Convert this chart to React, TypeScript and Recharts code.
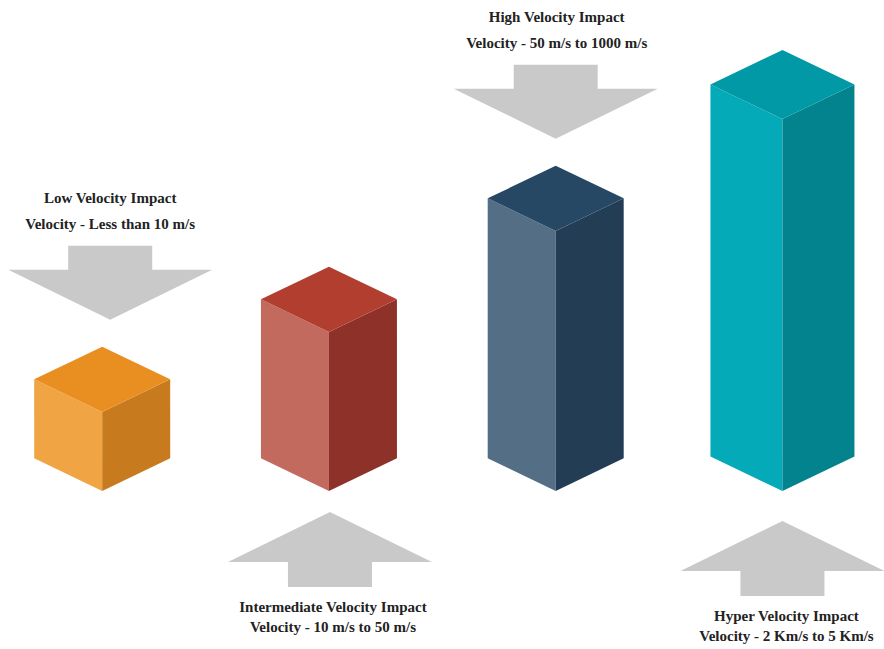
import React from "react";
import { BarChart, Bar, XAxis, YAxis } from "recharts";

// ---- data ----
const categories = [
  "Low Velocity Impact",
  "Intermediate Velocity Impact",
  "High Velocity Impact",
  "Hyper Velocity Impact",
];
const velocityRanges = [
  "Velocity - Less than 10 m/s",
  "Velocity - 10 m/s to 50 m/s",
  "Velocity - 50 m/s to 1000 m/s",
  "Velocity - 2 Km/s to 5 Km/s",
];
const barHeights = [79, 159, 260, 372];

// ---- styles ----
const FACE_COLORS = [
  { top: "#E98F22", left: "#F0A444", right: "#C77B1E" },
  { top: "#B23E30", left: "#C26A5E", right: "#8E3229" },
  { top: "#274864", left: "#546E85", right: "#233D55" },
  { top: "#0299A6", left: "#05AAB8", right: "#02838D" },
];
const HALF_WIDTHS = [68, 68, 68, 72];
const LABEL_SIDE = ["above", "below", "above", "below"];
const ARROW_DX = [8, 1, 0, 0];
const TEXT_DX = [8, 4, 1, 4];
const BELOW_GAP = [21, 21, 21, 30];
const ARROW_COLOR = "#C9C9C9";
const TEXT_COLOR = "#222222";

const data = categories.map((c, i) => ({
  name: c,
  range: velocityRanges[i],
  value: barHeights[i],
}));

const textStyle: React.CSSProperties = {
  fontFamily: "'Liberation Serif', 'Times New Roman', serif",
  fontWeight: "bold",
  fontSize: 15,
};

function Box3D(props: any) {
  const { x, y, width, height, index, payload } = props;
  const i = index as number;
  const cx = x + width / 2;
  const hw = HALF_WIDTHS[i];
  const hh = hw * 0.48;
  const top = y;
  const base = y + height;
  const col = FACE_COLORS[i];
  const pts = (arr: number[][]) => arr.map((p) => p.join(",")).join(" ");

  const ax = cx + ARROW_DX[i];
  const tx = cx + TEXT_DX[i];
  const headHalf = 102;
  const stemHalf = 42;

  let arrow: React.ReactNode;
  let texts: React.ReactNode;
  if (LABEL_SIDE[i] === "above") {
    const tip = top - 2 * hh - 27;
    const headBase = tip - 50;
    const stemTop = headBase - 24;
    arrow = (
      <polygon
        points={pts([
          [ax - stemHalf, stemTop],
          [ax + stemHalf, stemTop],
          [ax + stemHalf, headBase],
          [ax + headHalf, headBase],
          [ax, tip],
          [ax - headHalf, headBase],
          [ax - stemHalf, headBase],
        ])}
        fill={ARROW_COLOR}
      />
    );
    const l2 = stemTop - 22;
    const l1 = l2 - 25.5;
    texts = (
      <g style={textStyle} fill={TEXT_COLOR}>
        <text x={tx} y={l1} textAnchor="middle" dominantBaseline="central">
          {payload.name}
        </text>
        <text x={tx} y={l2} textAnchor="middle" dominantBaseline="central">
          {payload.range}
        </text>
      </g>
    );
  } else {
    const tip = base + BELOW_GAP[i];
    const headBase = tip + 50;
    const stemBottom = headBase + 25;
    arrow = (
      <polygon
        points={pts([
          [ax, tip],
          [ax + headHalf, headBase],
          [ax + stemHalf, headBase],
          [ax + stemHalf, stemBottom],
          [ax - stemHalf, stemBottom],
          [ax - stemHalf, headBase],
          [ax - headHalf, headBase],
        ])}
        fill={ARROW_COLOR}
      />
    );
    const l1 = stemBottom + 20;
    const l2 = l1 + 19.5;
    texts = (
      <g style={textStyle} fill={TEXT_COLOR}>
        <text x={tx} y={l1} textAnchor="middle" dominantBaseline="central">
          {payload.name}
        </text>
        <text x={tx} y={l2} textAnchor="middle" dominantBaseline="central">
          {payload.range}
        </text>
      </g>
    );
  }

  return (
    <g>
      <polygon
        points={pts([
          [cx - hw, top - hh],
          [cx, top],
          [cx, base],
          [cx - hw, base - hh],
        ])}
        fill={col.left}
      />
      <polygon
        points={pts([
          [cx, top],
          [cx + hw, top - hh],
          [cx + hw, base - hh],
          [cx, base],
        ])}
        fill={col.right}
      />
      <polygon
        points={pts([
          [cx, top - 2 * hh],
          [cx + hw, top - hh],
          [cx, top],
          [cx - hw, top - hh],
        ])}
        fill={col.top}
      />
      {arrow}
      {texts}
    </g>
  );
}

export default function App() {
  return (
    <div
      style={{
        position: "absolute",
        left: 0,
        top: 0,
        width: 884,
        height: 649,
        overflow: "hidden",
        background: "#ffffff",
      }}
    >
      <div style={{ position: "absolute", left: -11, top: 0 }}>
        <BarChart
          width={907}
          height={649}
          data={data}
          margin={{ top: 91, right: 0, bottom: 158, left: 0 }}
          barCategoryGap="40%"
        >
          <XAxis dataKey="name" hide />
          <YAxis hide domain={[0, 400]} />
          <Bar dataKey="value" shape={(p: any) => <Box3D {...p} />} isAnimationActive={false} />
        </BarChart>
      </div>
    </div>
  );
}
